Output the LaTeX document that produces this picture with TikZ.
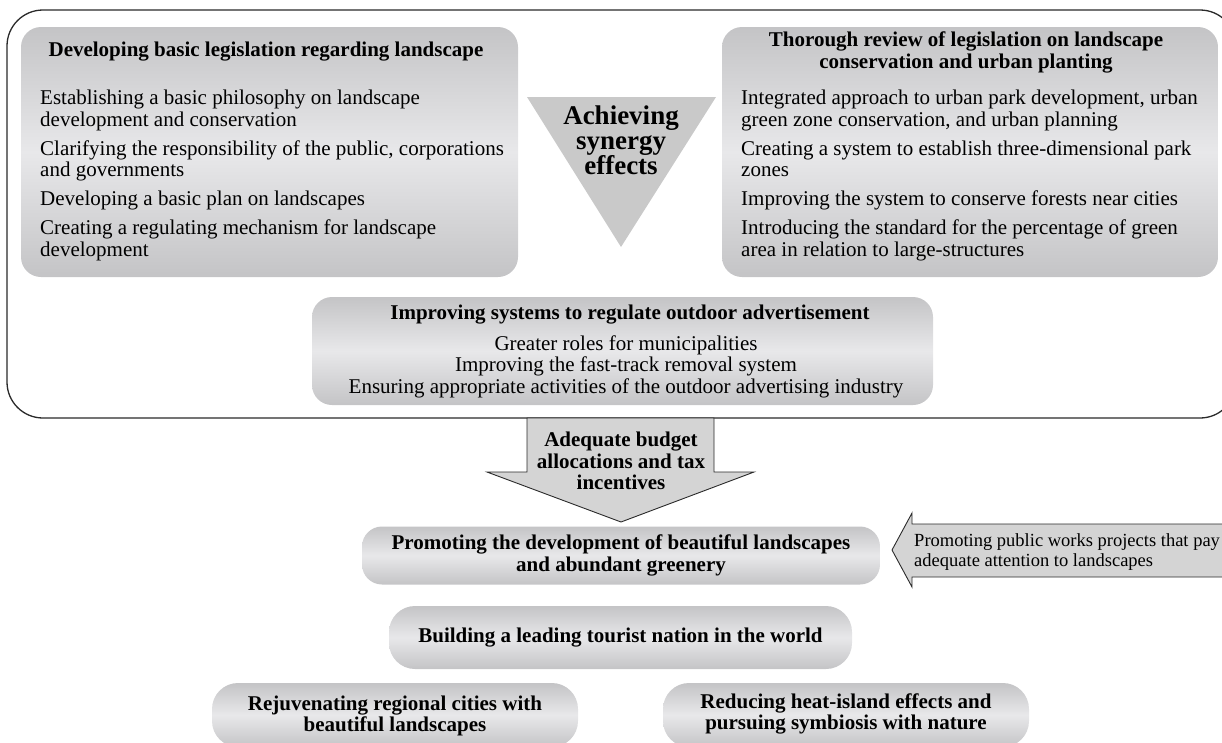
\documentclass[tikz,border=0pt]{standalone}
\usepackage{fontspec}
\setmainfont{Liberation Serif}
\usetikzlibrary{positioning}

\definecolor{boxedge}{HTML}{C4C4C6}
\definecolor{boxmid}{HTML}{E8E8EA}
\definecolor{trigray}{HTML}{C9C9C9}
\definecolor{arrowgray}{HTML}{D4D4D4}
\definecolor{framegray}{HTML}{2A2A2A}

\tikzset{
  panel/.style={rounded corners=20pt, top color=boxedge, bottom color=boxedge,
    middle color=boxmid, inner sep=0pt},
  pill/.style={panel, rounded corners=26pt},
  headtext/.style={font=\fontsize{21}{21.5}\selectfont\bfseries, align=center, inner sep=0pt},
  bodytext/.style={font=\fontsize{21}{21.5}\selectfont, align=left, inner sep=0pt},
  blockarrow/.style={fill=arrowgray, draw=framegray, line width=0.9pt, line join=miter},
}

\begin{document}
\begin{tikzpicture}[x=1pt,y=-1pt]

\clip (0,0) rectangle (1222,742);

% outer frame
\draw[framegray, line width=1.3pt, rounded corners=36pt] (7,10) rectangle (1236,418);

% upper panels
\node[panel, minimum width=497pt, minimum height=250pt] (legalbox) at (269.5,152) {};
\node[panel, minimum width=496pt, minimum height=250pt] (reviewbox) at (970,152) {};

\node[headtext] (legaltitle) at (266,52) {Developing basic legislation regarding landscape};
\node[bodytext, anchor=west] (legalitems) at (40,175.5)
  {Establishing a basic philosophy on landscape\\
   development and conservation\\[7.5pt]
   Clarifying the responsibility of the public, corporations\\
   and governments\\[7.5pt]
   Developing a basic plan on landscapes\\[7.5pt]
   Creating a regulating mechanism for landscape\\
   development};

\node[headtext] (reviewtitle) at (966,52.5)
  {Thorough review of legislation on landscape\\conservation and urban planting};
\node[bodytext, anchor=west] (reviewitems) at (741,175.5)
  {Integrated approach to urban park development, urban\\
   green zone conservation, and urban planning\\[7.5pt]
   Creating a system to establish three-dimensional park\\
   zones\\[7.5pt]
   Improving the system to conserve forests near cities\\[7.5pt]
   Introducing the standard for the percentage of green\\
   area in relation to large-structures};

% synergy triangle
\fill[trigray] (527,97) -- (716,97) -- (621,247) -- cycle;
\node[headtext, font=\fontsize{27}{25}\selectfont\bfseries] (synergy) at (621,140)
  {Achieving\\synergy\\effects};

% outdoor advertisement panel
\node[panel, minimum width=621pt, minimum height=108pt] (adbox) at (622.5,351) {};
\node[headtext] (adtitle) at (630,315) {Improving systems to regulate outdoor advertisement};
\node[bodytext, align=center] (aditems) at (626,366.5)
  {Greater roles for municipalities\\
   Improving the fast-track removal system\\
   Ensuring appropriate activities of the outdoor advertising industry};

% budget arrow
\draw[blockarrow] (527,418) -- (714,418) -- (714,472) -- (754,472) -- (621,522)
  -- (487,472) -- (527,472) -- cycle;
\node[headtext] (budget) at (621,461) {Adequate budget\\allocations and tax\\incentives};

% promoting box
\node[pill, rounded corners=20pt, minimum width=518pt, minimum height=58pt] (promote) at (621,555.5)
  {};
\node[headtext] (promotetext) at (621,555.5)
  {Promoting the development of beautiful landscapes\\and abundant greenery};

% public works arrow
\draw[blockarrow] (1240,524) -- (912,524) -- (912,513) -- (892,550) -- (912,587)
  -- (912,577) -- (1240,577);
\node[bodytext, font=\fontsize{18.5}{20}\selectfont, anchor=west] (works) at (914,552)
  {Promoting public works projects that pay\\adequate attention to landscapes};

% outcome pills
\node[pill, minimum width=463pt, minimum height=63pt] (tourist) at (620.5,637.5) {};
\node[headtext] (touristtext) at (620.5,638) {Building a leading tourist nation in the world};

\node[pill, minimum width=366pt, minimum height=64pt] (regional) at (395,715) {};
\node[headtext] (regionaltext) at (395,716)
  {Rejuvenating regional cities with\\beautiful landscapes};

\node[pill, minimum width=366pt, minimum height=64pt] (heatisland) at (846,715) {};
\node[headtext] (heatislandtext) at (846,714)
  {Reducing heat-island effects and\\pursuing symbiosis with nature};

\end{tikzpicture}
\end{document}
